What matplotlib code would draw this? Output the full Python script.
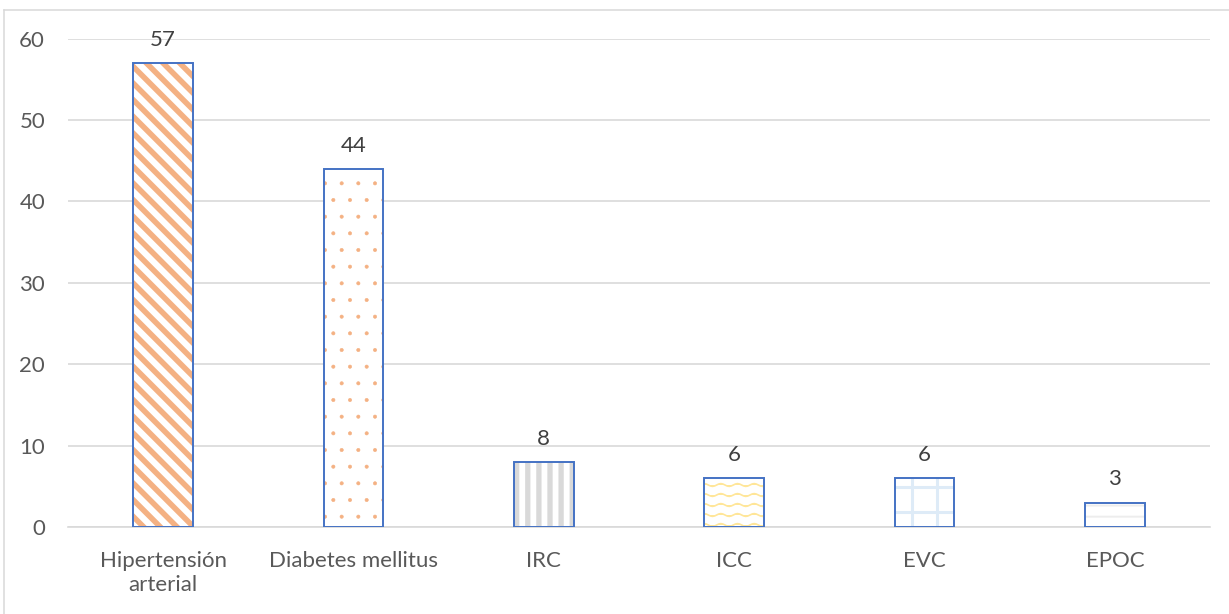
import numpy as np
import matplotlib
matplotlib.use("Agg")
import matplotlib.pyplot as plt
import matplotlib.hatch as mhatch
from matplotlib.path import Path
from matplotlib.lines import Line2D
import warnings

warnings.filterwarnings("ignore")

categorias = ["Hipertensión\narterial", "Diabetes mellitus", "IRC", "ICC", "EVC", "EPOC"]
valores = [57, 44, 8, 6, 6, 3]
yticks = [0, 10, 20, 30, 40, 50, 60]

# texturas de cada barra (relleno tipo Excel)
tramas = ["\\\\", ".", "v", "~", "g", "h"]
colores_trama = ["#F4B183", "#F4B183", "#D9D9D9", "#FFE699", "#DEEBF7", "#EDEDED"]
grosor_trama = [4.0, 0.4, 3.8, 1.2, 2.2, 1.4]


# tramas propias: rayas finas, rejilla y ondas
class LineasTrama(mhatch.HatchPatternBase):
    def __init__(self, hatch, density):
        self.nv = hatch.count("v") * 9 + hatch.count("g") * 4
        self.nh = hatch.count("h") * 9 + hatch.count("g") * 4
        self.num_vertices = (self.nv + self.nh) * 2

    def set_vertices_and_codes(self, vertices, codes):
        pv = (np.arange(self.nv) + 0.5) / max(self.nv, 1)
        ph = (np.arange(self.nh) + 0.5) / max(self.nh, 1)
        n = self.nv * 2
        vertices[0:n:2, 0] = pv
        vertices[0:n:2, 1] = 0.0
        vertices[1:n:2, 0] = pv
        vertices[1:n:2, 1] = 1.0
        vertices[n::2, 0] = 0.0
        vertices[n::2, 1] = ph
        vertices[n + 1::2, 0] = 1.0
        vertices[n + 1::2, 1] = ph
        codes[0::2] = Path.MOVETO
        codes[1::2] = Path.LINETO


class OndasTrama(mhatch.HatchPatternBase):
    def __init__(self, hatch, density):
        self.filas = hatch.count("~") * 10
        self.pts = 49
        self.num_vertices = self.filas * self.pts

    def set_vertices_and_codes(self, vertices, codes):
        xs = np.linspace(0, 1, self.pts)
        for i in range(self.filas):
            y0 = (i + 0.5) / self.filas
            seg = slice(i * self.pts, (i + 1) * self.pts)
            vertices[seg, 0] = xs
            vertices[seg, 1] = y0 + 0.014 * np.sin(xs * 2 * np.pi * 6)
            codes[seg] = Path.LINETO
            codes[i * self.pts] = Path.MOVETO


mhatch._hatch_types.append(LineasTrama)
mhatch._hatch_types.append(OndasTrama)

plt.rcParams["font.family"] = ["Lato", "DejaVu Sans"]

fig = plt.figure(figsize=(12.29, 6.14), dpi=100)
ax = fig.add_axes([68 / 1229, 1 - 527 / 614, (1210 - 68) / 1229, (527 - 38.7) / 614])

x = np.arange(len(categorias))
ancho = 0.315

barras = ax.bar(x, valores, width=ancho, color="white", linewidth=0, zorder=2)
for b, h, c, lw in zip(barras, tramas, colores_trama, grosor_trama):
    b.set_hatch(h)
    b.set_edgecolor(c)
    b.set_linewidth(0)
    if hasattr(b, "set_hatch_linewidth"):
        b.set_hatch_linewidth(lw)
ax.bar(x, valores, width=ancho, fill=False, edgecolor="#4472C4", linewidth=1.4, zorder=3)

for xi, v in zip(x, valores):
    ax.annotate(str(v), (xi, v), xytext=(0, 12.5), textcoords="offset points",
                ha="center", va="baseline", fontsize=16, color="#404040")

ax.set_xlim(-0.5, len(categorias) - 0.5)
ax.set_ylim(0, 60)
ax.set_yticks(yticks)
ax.set_xticks(x)
ax.set_xticklabels(categorias, linespacing=1.3)
ax.tick_params(axis="both", length=0, labelsize=16, labelcolor="#595959")
ax.tick_params(axis="y", pad=16.5)
ax.tick_params(axis="x", pad=17)

ax.yaxis.grid(True, color="#D9D9D9", linewidth=1.2)
ax.set_axisbelow(True)
for s in ["top", "right", "left"]:
    ax.spines[s].set_visible(False)
ax.spines["bottom"].set_color("#D9D9D9")
ax.spines["bottom"].set_linewidth(1.2)

# borde del área del gráfico
bx = 4 / 1229
by = 1 - 9.7 / 614
fig.add_artist(Line2D([bx, bx], [0, by], color="#D9D9D9", linewidth=1.1, transform=fig.transFigure))
fig.add_artist(Line2D([bx, 1], [by, by], color="#D9D9D9", linewidth=1.1, transform=fig.transFigure))

fig.savefig("out.png", dpi=100)
